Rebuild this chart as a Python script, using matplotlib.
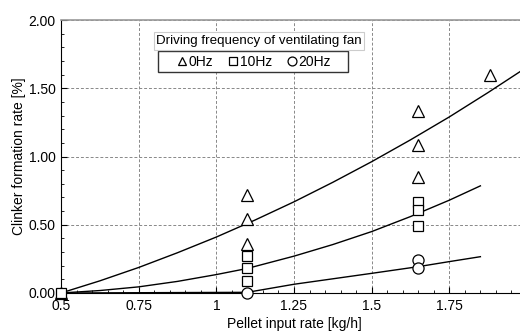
import matplotlib
matplotlib.use('Agg')
import matplotlib.pyplot as plt
from matplotlib.patches import Rectangle
from matplotlib.ticker import MultipleLocator

plt.rcParams['font.family'] = ['Liberation Sans', 'DejaVu Sans']
plt.rcParams['font.size'] = 10

# measured points (pellet input rate, clinker formation rate)
x_0hz = [0.5, 1.1, 1.1, 1.1, 1.65, 1.65, 1.65, 1.88]
y_0hz = [0.0, 0.72, 0.54, 0.36, 1.33, 1.085, 0.85, 1.60]
x_10hz = [0.5, 1.1, 1.1, 1.1, 1.65, 1.65, 1.65]
y_10hz = [0.0, 0.27, 0.18, 0.09, 0.67, 0.61, 0.49]
x_20hz = [1.1, 1.65, 1.65]
y_20hz = [0.0, 0.24, 0.18]

# trend curves
cx_0hz = [0.5, 0.625, 0.75, 0.875, 1.0, 1.125, 1.25, 1.375, 1.5, 1.625, 1.75, 1.875, 2.0]
cy_0hz = [0.0, 0.089, 0.187, 0.295, 0.41, 0.535, 0.668, 0.811, 0.962, 1.122, 1.29, 1.469, 1.655]
cx_10hz = [0.5, 0.625, 0.75, 0.875, 1.0, 1.1, 1.25, 1.375, 1.5, 1.625, 1.75, 1.85]
cy_10hz = [0.0, 0.018, 0.045, 0.085, 0.135, 0.18, 0.27, 0.355, 0.45, 0.56, 0.68, 0.785]
cx_20hz = [0.5, 1.1, 1.25, 1.5, 1.65, 1.75, 1.85]
cy_20hz = [0.0, 0.005, 0.064, 0.144, 0.193, 0.23, 0.266]

xticks = [0.5, 0.75, 1.0, 1.25, 1.5, 1.75]
xticklabels = ['0.5', '0.75', '1', '1.25', '1.5', '1.75']
yticks = [0.0, 0.5, 1.0, 1.5, 2.0]
yticklabels = ['0.00', '0.50', '1.00', '1.50', '2.00']

W, H = 520, 331
fig = plt.figure(figsize=(W / 100, H / 100), dpi=100)
ax = fig.add_axes([61 / W, 38 / H, 466 / W, 273 / H])

mk = dict(linestyle='none', markerfacecolor='white', markeredgecolor='black',
          markeredgewidth=0.9, clip_on=False, zorder=4)
ax.plot(cx_0hz, cy_0hz, color='black', lw=1.0, zorder=3)
ax.plot(cx_10hz, cy_10hz, color='black', lw=1.0, zorder=3)
ax.plot(cx_20hz, cy_20hz, color='black', lw=1.0, zorder=3)
h0, = ax.plot(x_0hz, y_0hz, marker='^', markersize=8, **mk)
h1, = ax.plot(x_10hz, y_10hz, marker='s', markersize=7.5, **mk)
h2, = ax.plot(x_20hz, y_20hz, marker='o', markersize=8, **mk)

ax.set_xlim(0.5, 2.0)
ax.set_ylim(0.0, 2.0)
ax.set_xticks(xticks)
ax.set_xticklabels(xticklabels)
ax.set_yticks(yticks)
ax.set_yticklabels(yticklabels)
ax.xaxis.set_minor_locator(MultipleLocator(0.05))
ax.yaxis.set_minor_locator(MultipleLocator(0.1))
ax.tick_params(which='both', direction='in', top=False, right=False)
ax.tick_params(which='major', length=4, width=0.8, pad=4)
ax.tick_params(which='minor', length=2.5, width=0.6)
ax.grid(True, which='major', linestyle=(0, (3, 2)), color='#888888', lw=0.7)
ax.set_axisbelow(True)
ax.spines['top'].set_color('#999999')
ax.spines['top'].set_linewidth(1.2)
ax.spines['right'].set_visible(False)

ax.set_xlabel('Pellet input rate [kg/h]', labelpad=3)
ax.set_ylabel('Clinker formation rate [%]', labelpad=2)

# legend box and title box
box = Rectangle((158 / W, 1 - 72 / H), 190 / W, 21 / H, transform=fig.transFigure,
                facecolor='white', edgecolor='#333333', lw=1.0, zorder=4.5)
fig.add_artist(box)
leg = fig.legend([h0, h1, h2], ['0Hz', '10Hz', '20Hz'], ncol=3,
                 loc='center left', bbox_to_anchor=(175 / W, 1 - 61.5 / H),
                 frameon=False, handlelength=1.0, handletextpad=0.0,
                 columnspacing=0.9, borderpad=0, borderaxespad=0,
                 markerscale=0.8, fontsize=10)
leg.set_zorder(6)

fig.text(259 / W, 1 - 41 / H, 'Driving frequency of ventilating fan',
         ha='center', va='center', fontsize=9.6, zorder=6,
         bbox=dict(boxstyle='square,pad=0.2', facecolor='white',
                   edgecolor='#cccccc', linewidth=0.8))

fig.savefig('out.png', dpi=100)
